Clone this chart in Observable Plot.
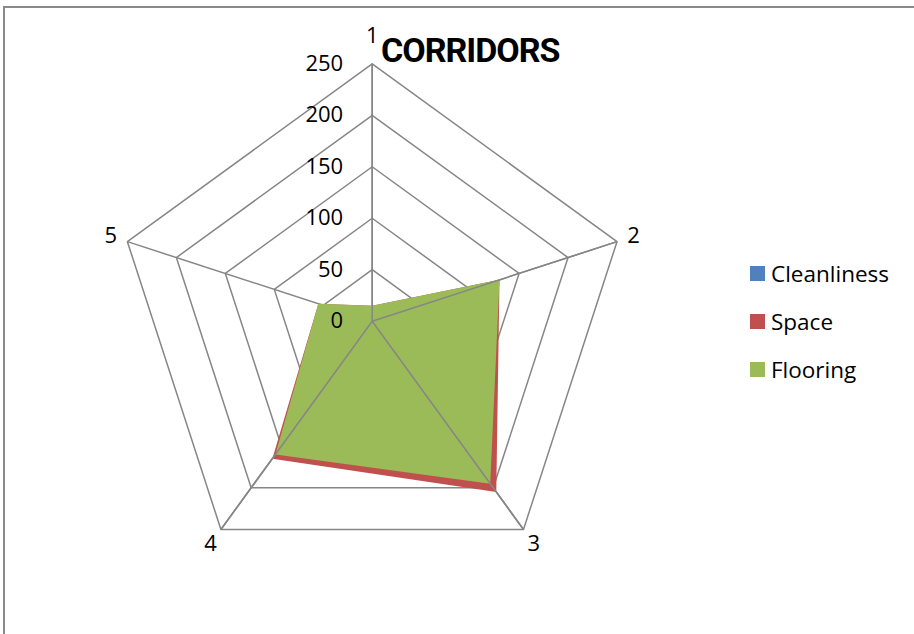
<!DOCTYPE html>
<html>
<head>
<meta charset="utf-8">
<script src="https://cdn.jsdelivr.net/npm/d3@7"></script>
<script src="https://cdn.jsdelivr.net/npm/@observablehq/plot@0.6"></script>
<style>
  html, body { margin: 0; padding: 0; background: #fff; }
  #wrap { position: relative; width: 914px; height: 634px; overflow: hidden; font-family: "Open Sans", sans-serif; }
  #frame { position: absolute; left: 3px; top: 6px; width: 940px; height: 700px; border-top: 2px solid #8a8a8a; border-left: 2px solid #8a8a8a; }
  #chart { position: absolute; left: 0; top: 0; }
  #title { position: absolute; left: 381px; top: 33px; font-family: Roboto, sans-serif; font-weight: bold; font-size: 34px; letter-spacing: -1px; color: #000; line-height: 1; }
  .leg { position: absolute; left: 750px; display: flex; align-items: center; font-size: 22.5px; color: #000; height: 24px; }
  .leg span.sw { display: inline-block; width: 15px; height: 15px; margin-right: 6px; }
</style>
</head>
<body>
<div id="wrap">
  <div id="frame"></div>
  <div id="chart"></div>
  <div id="title">CORRIDORS</div>
  <div id="legend"></div>
</div>
<script>
// ---- data ----
const categories = ["1", "2", "3", "4", "5"];
const seriesNames = ["Cleanliness", "Space", "Flooring"];
const seriesColors = ["#4F81BD", "#C0504D", "#9BBB59"];
const cleanliness = [10, 115, 180, 150, 45];
const space = [15, 130, 205, 165, 55];
const flooring = [15, 130, 195, 160, 55];
const tickValues = [0, 50, 100, 150, 200, 250];
const maxValue = 250;

const seriesValues = [cleanliness, space, flooring];
const ang = i => i * 2 * Math.PI / categories.length;
const px = (v, i) => v * Math.sin(ang(i));
const py = (v, i) => v * Math.cos(ang(i));

const W = 914, H = 634;
const cx = 371.7, cy = 320.7, k = 257.4 / maxValue;

const seriesRows = seriesNames.map((s, j) =>
  categories.map((c, i) => ({ series: s, cat: c, i, v: seriesValues[j][i] })));
const ringRows = tickValues.filter(t => t > 0).flatMap(t =>
  categories.map((c, i) => ({ t, i })));
const spokeRows = categories.map((c, i) => ({ c, i }));

const gridColor = "#868686";
const spoke = rows => Plot.link(rows, {
  x1: () => 0, y1: () => 0,
  x2: d => px(maxValue, d.i), y2: d => py(maxValue, d.i),
  stroke: gridColor, strokeWidth: 1.5
});

const marks = [];
// rings and spokes beneath the filled areas
marks.push(Plot.line(ringRows, {
  x: d => px(d.t, d.i), y: d => py(d.t, d.i), z: "t",
  curve: "linear-closed", stroke: gridColor, strokeWidth: 1.5
}));
marks.push(spoke(spokeRows));
seriesRows.forEach((rows, j) => {
  marks.push(Plot.line(rows, {
    x: d => px(d.v, d.i), y: d => py(d.v, d.i),
    curve: "linear-closed", fill: seriesColors[j], stroke: "none"
  }));
});
// spokes that show through the fill in the original
marks.push(spoke(spokeRows.slice(0, 4)));
marks.push(Plot.text(tickValues, {
  x: () => 0, y: d => d, text: d => String(d),
  textAnchor: "end", dx: -29, fontSize: 22, fill: "#000"
}));
const labelR = i => (i === 0 ? 277 : 267);
marks.push(Plot.text(spokeRows, {
  x: d => px(labelR(d.i), d.i), y: d => py(labelR(d.i), d.i),
  text: d => d.c, textAnchor: "middle", fontSize: 22, fill: "#000"
}));

const chart = Plot.plot({
  width: W, height: H,
  margin: 0,
  x: { domain: [-cx / k, (W - cx) / k], axis: null },
  y: { domain: [-(H - cy) / k, cy / k], axis: null },
  style: { fontFamily: "'Open Sans', sans-serif", background: "transparent", overflow: "visible" },
  marks
});
document.getElementById("chart").appendChild(chart);

const legendTops = [261, 309, 357];
const legend = document.getElementById("legend");
seriesNames.forEach((s, j) => {
  const d = document.createElement("div");
  d.className = "leg";
  d.style.top = legendTops[j] + "px";
  d.innerHTML = `<span class="sw" style="background:${seriesColors[j]}"></span>${s}`;
  legend.appendChild(d);
});
</script>
</body>
</html>
